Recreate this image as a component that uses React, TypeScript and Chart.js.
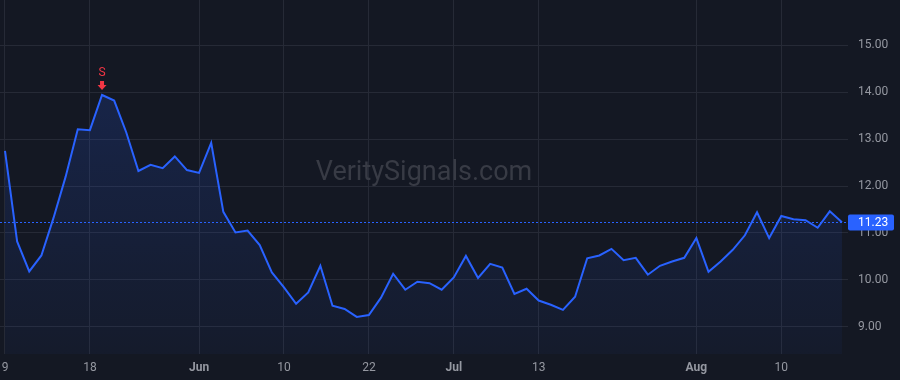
import React, { useEffect, useRef } from 'react';
import { Chart, registerables } from 'chart.js';

Chart.register(...registerables);

// ---- data ----
const prices: number[] = [
  12.75, 10.82, 10.18, 10.52, 11.32, 12.2, 13.21, 13.19, 13.94, 13.82,
  13.14, 12.32, 12.45, 12.38, 12.63, 12.34, 12.28, 12.92, 11.45, 11.01,
  11.05, 10.74, 10.16, 9.84, 9.49, 9.73, 10.3, 9.45, 9.38, 9.21,
  9.25, 9.62, 10.13, 9.79, 9.96, 9.93, 9.79, 10.05, 10.51, 10.04,
  10.34, 10.26, 9.7, 9.81, 9.56, 9.47, 9.36, 9.64, 10.46, 10.52,
  10.66, 10.42, 10.47, 10.11, 10.3, 10.39, 10.47, 10.89, 10.17, 10.39,
  10.64, 10.95, 11.44, 10.89, 11.36, 11.29, 11.27, 11.11, 11.46, 11.23,
];
const tickIndex: number[] = [0, 7, 16, 23, 30, 37, 44, 57, 64];
const tickText: string[] = ['9', '18', 'Jun', '10', '22', 'Jul', '13', 'Aug', '10'];
const monthTicks: string[] = ['Jun', 'Jul', 'Aug'];
const yTicks: number[] = [9, 10, 11, 12, 13, 14, 15];
const lastPrice = 11.23;
const signalIndex = 8;
const signalText = 'S';
const watermark = 'VeritySignals.com';

const FONT = "Roboto, 'Noto Sans', sans-serif";
const BG = '#141823';
const BLUE = '#2962ff';
const RED = '#f23645';
const GRID = '#262a36';
const TEXT = '#9598a1';

const overlay = {
  id: 'overlay',
  beforeDraw(chart: any) {
    const { ctx, width, height } = chart;
    ctx.save();
    ctx.fillStyle = BG;
    ctx.fillRect(0, 0, width, height);
    ctx.restore();
  },
  beforeDatasetsDraw(chart: any) {
    const { ctx, chartArea } = chart;
    ctx.save();
    ctx.font = `27px ${FONT}`;
    ctx.fillStyle = '#383b45';
    ctx.textAlign = 'center';
    ctx.textBaseline = 'middle';
    ctx.fillText(watermark, (chartArea.left + chartArea.right) / 2, 173);
    ctx.restore();
  },
  afterDraw(chart: any) {
    const { ctx, chartArea, scales } = chart;
    const y = scales.y;
    const x = scales.x;
    const py = Math.round(y.getPixelForValue(lastPrice)) + 0.5;
    ctx.save();
    // dotted last price line
    ctx.strokeStyle = BLUE;
    ctx.lineWidth = 1;
    ctx.setLineDash([2, 2]);
    ctx.beginPath();
    ctx.moveTo(chartArea.left, py);
    ctx.lineTo(chartArea.right, py);
    ctx.stroke();
    ctx.setLineDash([]);
    // price label
    ctx.fillStyle = BLUE;
    ctx.beginPath();
    (ctx as any).roundRect(chartArea.right, py - 8, 46, 16, 2);
    ctx.fill();
    ctx.fillStyle = '#ffffff';
    ctx.font = `12px ${FONT}`;
    ctx.textAlign = 'left';
    ctx.textBaseline = 'middle';
    ctx.fillText(lastPrice.toFixed(2), chartArea.right + 10, py + 0.5);
    // signal marker
    const sx = x.getPixelForValue(signalIndex);
    const sy = y.getPixelForValue(prices[signalIndex]);
    ctx.fillStyle = RED;
    ctx.textAlign = 'center';
    ctx.font = `12px ${FONT}`;
    ctx.fillText(signalText, sx, sy - 22);
    // arrow
    const tip = sy - 5;
    ctx.beginPath();
    ctx.rect(sx - 2, tip - 9, 4, 5);
    ctx.fill();
    ctx.beginPath();
    ctx.moveTo(sx - 4.5, tip - 5);
    ctx.lineTo(sx + 4.5, tip - 5);
    ctx.lineTo(sx, tip);
    ctx.closePath();
    ctx.fill();
    ctx.restore();
  },
};

export default function App() {
  const ref = useRef<HTMLCanvasElement | null>(null);
  useEffect(() => {
    document.body.style.margin = '0';
    document.body.style.background = BG;
    const canvas = ref.current!;
    const chart = new Chart(canvas, {
      type: 'line',
      data: {
        datasets: [
          {
            data: prices.map((v, i) => ({ x: i, y: v })),
            borderColor: BLUE,
            borderWidth: 2,
            pointRadius: 0,
            tension: 0,
            fill: 'start',
            backgroundColor: (c: any) => {
              const ch = c.chart;
              const area = ch.chartArea;
              if (!area) return 'transparent';
              const top = ch.scales.y.getPixelForValue(Math.max(...prices));
              const g = ch.ctx.createLinearGradient(0, top, 0, area.bottom);
              g.addColorStop(0, 'rgba(41,98,255,0.17)');
              g.addColorStop(1, 'rgba(41,98,255,0.04)');
              return g;
            },
          },
        ],
      },
      options: {
        responsive: false,
        animation: false,
        devicePixelRatio: 1,
        layout: { padding: 0 },
        plugins: { legend: { display: false }, tooltip: { enabled: false } },
        scales: {
          x: {
            type: 'linear',
            min: -0.412,
            max: 69.5,
            afterBuildTicks: (s: any) => {
              s.ticks = tickIndex.map((v) => ({ value: v }));
            },
            afterFit: (s: any) => {
              s.height = 26;
              s.paddingLeft = 0;
              s.paddingRight = 0;
            },
            grid: { color: GRID, drawTicks: false, lineWidth: 1 },
            border: { display: false },
            ticks: {
              autoSkip: false,
              maxRotation: 0,
              padding: 7,
              color: TEXT,
              font: (c: any) => {
                const idx = tickIndex.indexOf(c.tick?.value);
                const t = idx >= 0 ? tickText[idx] : '';
                return { family: FONT, size: 12, weight: monthTicks.includes(t) ? 'bold' : 'normal' } as any;
              },
              callback: (v: any) => {
                const idx = tickIndex.indexOf(Number(v));
                return idx >= 0 ? tickText[idx] : '';
              },
            },
          },
          y: {
            type: 'linear',
            position: 'right',
            min: 8.42,
            max: 15.964,
            afterBuildTicks: (s: any) => {
              s.ticks = yTicks.map((v) => ({ value: v }));
            },
            afterFit: (s: any) => {
              s.width = 52;
              s.paddingTop = 0;
              s.paddingBottom = 0;
            },
            grid: { color: GRID, drawTicks: false, lineWidth: 1 },
            border: { display: false },
            ticks: {
              padding: 10,
              color: TEXT,
              font: { family: FONT, size: 12 },
              callback: (v: any) => Number(v).toFixed(2),
            },
          },
        },
      },
      plugins: [overlay],
    });
    return () => chart.destroy();
  }, []);
  return (
    <div style={{ position: 'fixed', left: 0, top: 0, width: 900, height: 380, background: BG }}>
      <canvas ref={ref} width={900} height={380} style={{ display: 'block', width: 900, height: 380 }} />
    </div>
  );
}
